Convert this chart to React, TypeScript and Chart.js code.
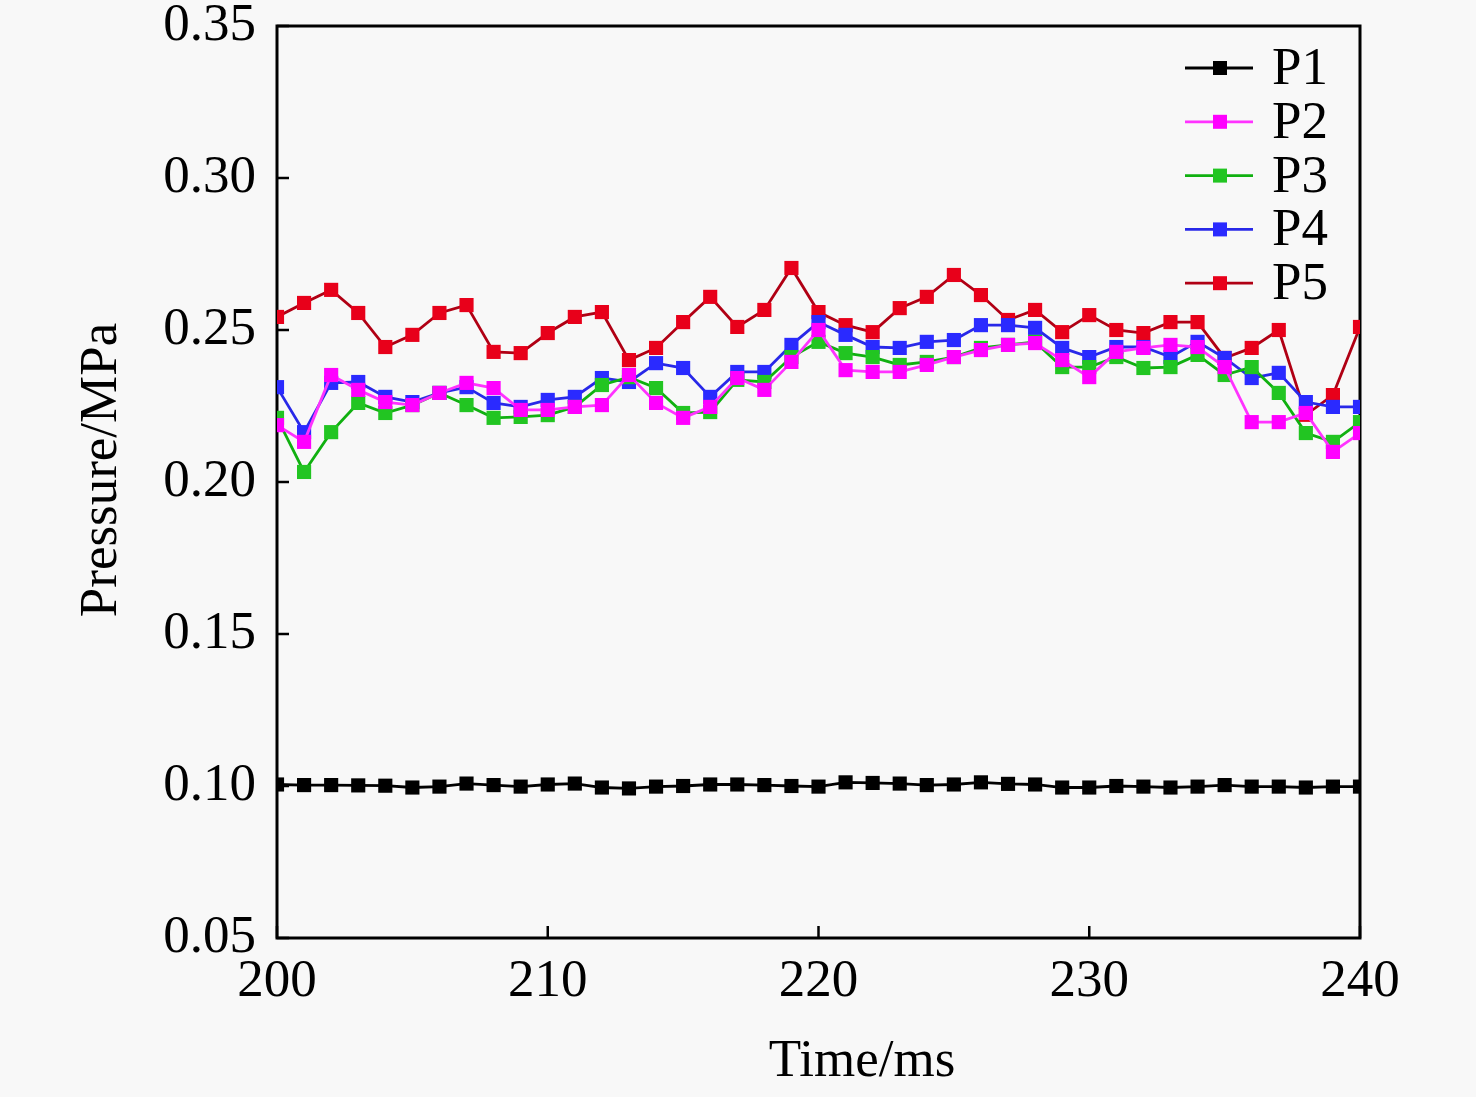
import { useEffect, useRef } from 'react';
import { Chart, registerables } from 'chart.js';

Chart.register(...registerables);

const TIMES = [
  200, 201, 202, 203, 204, 205, 206, 207, 208, 209, 210,
  211, 212, 213, 214, 215, 216, 217, 218, 219, 220,
  221, 222, 223, 224, 225, 226, 227, 228, 229, 230,
  231, 232, 233, 234, 235, 236, 237, 238, 239, 240,
];

const P1 = [
  0.1005, 0.1003, 0.1003, 0.1002, 0.1001, 0.0995, 0.0998, 0.1008, 0.1003, 0.0998, 0.1005,
  0.1008, 0.0995, 0.0992, 0.0998, 0.1000, 0.1005, 0.1005, 0.1003, 0.1000, 0.0998,
  0.1012, 0.1010, 0.1008, 0.1003, 0.1005, 0.1012, 0.1007, 0.1005, 0.0995, 0.0995,
  0.1000, 0.0998, 0.0995, 0.0998, 0.1003, 0.0998, 0.0998, 0.0995, 0.0998, 0.0998,
];

const P2 = [
  0.2187, 0.2132, 0.2352, 0.2303, 0.2263, 0.2253, 0.2293, 0.2326, 0.2309, 0.2237, 0.2237,
  0.2247, 0.2253, 0.2352, 0.2260, 0.2211, 0.2247, 0.2342, 0.2303, 0.2395, 0.2500,
  0.2368, 0.2362, 0.2362, 0.2385, 0.2411, 0.2434, 0.2451, 0.2457, 0.2401, 0.2345,
  0.2428, 0.2441, 0.2451, 0.2444, 0.2378, 0.2197, 0.2197, 0.2227, 0.2099, 0.2161,
];

const P3 = [
  0.2211, 0.2033, 0.2164, 0.2260, 0.2227, 0.2253, 0.2293, 0.2253, 0.2211, 0.2214, 0.2220,
  0.2247, 0.2319, 0.2345, 0.2309, 0.2227, 0.2230, 0.2336, 0.2329, 0.2411, 0.2461,
  0.2424, 0.2411, 0.2385, 0.2395, 0.2411, 0.2441, 0.2451, 0.2461, 0.2378, 0.2378,
  0.2411, 0.2375, 0.2378, 0.2418, 0.2352, 0.2378, 0.2293, 0.2161, 0.2132, 0.2197,
];

const P4 = [
  0.2312, 0.2164, 0.2326, 0.2329, 0.2280, 0.2263, 0.2293, 0.2312, 0.2260, 0.2247, 0.2270,
  0.2280, 0.2342, 0.2329, 0.2391, 0.2375, 0.2280, 0.2362, 0.2362, 0.2451, 0.2526,
  0.2484, 0.2444, 0.2441, 0.2461, 0.2467, 0.2516, 0.2516, 0.2507, 0.2441, 0.2411,
  0.2444, 0.2444, 0.2411, 0.2461, 0.2408, 0.2342, 0.2359, 0.2263, 0.2247, 0.2247,
];

const P5 = [
  0.2543, 0.2589, 0.2632, 0.2556, 0.2444, 0.2484, 0.2556, 0.2582, 0.2428, 0.2424, 0.2490,
  0.2543, 0.2559, 0.2401, 0.2441, 0.2526, 0.2609, 0.2510, 0.2566, 0.2704, 0.2559,
  0.2516, 0.2493, 0.2572, 0.2609, 0.2681, 0.2615, 0.2533, 0.2566, 0.2493, 0.2549,
  0.2500, 0.2490, 0.2526, 0.2526, 0.2408, 0.2441, 0.2500, 0.2221, 0.2286, 0.2510,
];

const SERIES = [
  { label: 'P1', values: P1, line: '#000000', mark: '#000000' },
  { label: 'P2', values: P2, line: '#ff33ff', mark: '#ff00ff' },
  { label: 'P3', values: P3, line: '#10b010', mark: '#22c522' },
  { label: 'P4', values: P4, line: '#2828e8', mark: '#2a2aff' },
  { label: 'P5', values: P5, line: '#b00014', mark: '#e8001a' },
];

const X_TICKS = [200, 210, 220, 230, 240];
const Y_TICKS = [0.05, 0.1, 0.15, 0.2, 0.25, 0.3, 0.35];

const FONT = "'Liberation Serif', 'Times New Roman', serif";
const BG = '#f8f8f8';

// frame, inward ticks, axis titles and the legend, drawn like the original figure
const framePlugin = {
  id: 'frame',
  beforeDraw(chart: Chart) {
    const { ctx, width, height } = chart;
    ctx.save();
    ctx.fillStyle = BG;
    ctx.fillRect(0, 0, width, height);
    ctx.restore();
  },
  beforeDatasetsDraw(chart: Chart) {
    const { ctx, chartArea: a, scales } = chart;
    ctx.save();
    ctx.strokeStyle = '#000';
    ctx.lineWidth = 3;
    ctx.strokeRect(a.left, a.top, a.right - a.left, a.bottom - a.top);
    ctx.lineWidth = 2.5;
    ctx.beginPath();
    X_TICKS.forEach(t => {
      const x = scales.x.getPixelForValue(t);
      ctx.moveTo(x, a.bottom);
      ctx.lineTo(x, a.bottom - 12);
    });
    Y_TICKS.forEach(t => {
      const y = scales.y.getPixelForValue(t);
      ctx.moveTo(a.left, y);
      ctx.lineTo(a.left + 12, y);
    });
    ctx.stroke();
    ctx.restore();
  },
  afterDraw(chart: Chart) {
    const { ctx } = chart;
    ctx.save();
    ctx.fillStyle = '#000';
    ctx.font = `53px ${FONT}`;
    ctx.textAlign = 'center';
    ctx.textBaseline = 'middle';
    ctx.fillText('Time/ms', 862, 1062);

    ctx.translate(102, 470);
    ctx.rotate(-Math.PI / 2);
    ctx.fillText('Pressure/MPa', 0, 0);
    ctx.restore();

    // legend
    ctx.save();
    ctx.font = `53px ${FONT}`;
    ctx.textAlign = 'left';
    ctx.textBaseline = 'middle';
    SERIES.forEach((s, i) => {
      const y = 68 + i * 53.8;
      ctx.strokeStyle = s.line;
      ctx.lineWidth = 2.8;
      ctx.beginPath();
      ctx.moveTo(1185, y);
      ctx.lineTo(1253, y);
      ctx.stroke();
      ctx.fillStyle = s.mark;
      ctx.fillRect(1213, y - 7, 14, 14);
      ctx.fillStyle = '#000';
      ctx.fillText(s.label, 1272, y + 2);
    });
    ctx.restore();
  },
};

export default function App() {
  const canvasRef = useRef<HTMLCanvasElement>(null);
  const chartRef = useRef<Chart | null>(null);

  useEffect(() => {
    document.body.style.margin = '0';
    if (!canvasRef.current) return;
    chartRef.current?.destroy();

    chartRef.current = new Chart(canvasRef.current, {
      type: 'line',
      data: {
        datasets: SERIES.map(s => ({
          label: s.label,
          data: TIMES.map((t, i) => ({ x: t, y: s.values[i] })),
          borderColor: s.line,
          backgroundColor: s.mark,
          pointBackgroundColor: s.mark,
          pointBorderColor: s.mark,
          pointBorderWidth: 0,
          pointStyle: 'rect',
          pointRadius: 10,
          borderWidth: 2.8,
          tension: 0,
          fill: false,
        })),
      },
      options: {
        responsive: true,
        maintainAspectRatio: false,
        animation: false,
        layout: { padding: { top: 26, right: 116, left: 0, bottom: 0 } },
        plugins: {
          legend: { display: false },
          tooltip: { enabled: false },
        },
        scales: {
          x: {
            type: 'linear',
            min: 200,
            max: 240,
            grid: { display: false },
            border: { display: false },
            afterFit: (scale: any) => {
              scale.height = 159;
              scale.paddingLeft = 0;
              scale.paddingRight = 0;
            },
            afterBuildTicks: (scale: any) => { scale.ticks = X_TICKS.map(v => ({ value: v })); },
            ticks: {
              color: '#000',
              padding: 4,
              maxRotation: 0,
              font: { size: 53, family: FONT },
              callback: (v: any) => String(v),
            },
          },
          y: {
            type: 'linear',
            min: 0.05,
            max: 0.35,
            grid: { display: false },
            border: { display: false },
            afterFit: (scale: any) => {
              scale.width = 277;
              scale.paddingTop = 0;
              scale.paddingBottom = 0;
            },
            afterBuildTicks: (scale: any) => { scale.ticks = Y_TICKS.map(v => ({ value: v })); },
            ticks: {
              color: '#000',
              padding: 13,
              font: { size: 53, family: FONT },
              callback: (v: any) => Number(v).toFixed(2),
            },
          },
        },
      },
      plugins: [framePlugin],
    });

    return () => { chartRef.current?.destroy(); };
  }, []);

  return (
    <div style={{ width: 1476, height: 1097, position: 'relative', background: BG }}>
      <canvas ref={canvasRef} />
    </div>
  );
}
